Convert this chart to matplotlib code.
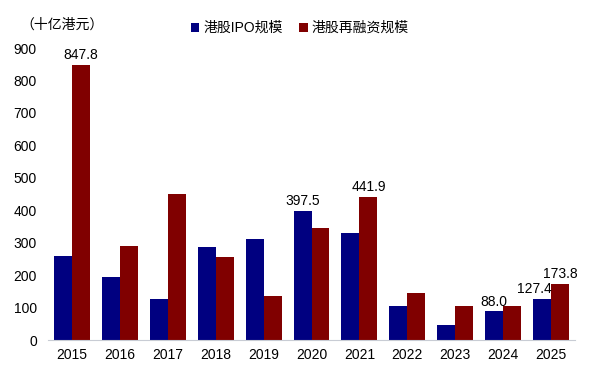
import matplotlib
matplotlib.use('agg')
import matplotlib.pyplot as plt  # noqa: E402
import numpy as np  # noqa: E402

plt.rcParams['font.family'] = ['Liberation Sans', 'Noto Sans CJK SC', 'DejaVu Sans']

years = ['2015', '2016', '2017', '2018', '2019', '2020', '2021', '2022', '2023', '2024', '2025']
ipo = [260, 194, 127, 286, 312, 397.5, 329, 104, 46, 88.0, 127.4]
refi = [847.8, 291, 450, 255, 137, 345, 441.9, 146, 104, 104, 173.8]
# which bars carry a value label
ipo_labels = {5: '397.5', 9: '88.0', 10: '127.4'}
refi_labels = {0: '847.8', 6: '441.9', 10: '173.8'}

fig = plt.figure(figsize=(5.91, 3.70), dpi=100)
ax = fig.add_axes([48/591, 1-340/370, 527/591, 292/370])

x = np.arange(len(years))
w = 0.375
b1 = ax.bar(x - w/2, ipo, w, color='#000080', label='港股IPO规模')
b2 = ax.bar(x + w/2, refi, w, color='#800000', label='港股再融资规模')

for i, t in ipo_labels.items():
    if i == len(years) - 1:
        # last one sits left of the taller red bar
        ax.text(x[i] + 0.02, ipo[i] + 8, t, ha='right', va='bottom', fontsize=10, zorder=5)
    else:
        ax.text(x[i] - w/2, ipo[i] + 8, t, ha='center', va='bottom', fontsize=10, zorder=5)
for i, t in refi_labels.items():
    ax.text(x[i] + w/2, refi[i] + 8, t, ha='center', va='bottom', fontsize=10, zorder=5)

ax.set_xlim(-0.5, len(years) - 0.5)
ax.set_ylim(0, 900)
ax.set_yticks(range(0, 901, 100))
ax.set_xticks(x)
ax.set_xticklabels(years)
ax.tick_params(axis='both', length=0, labelsize=10)
ax.tick_params(axis='y', pad=8)
ax.tick_params(axis='x', pad=6)
for s in ['top', 'right', 'left']:
    ax.spines[s].set_visible(False)
ax.spines['bottom'].set_color('#c8ccd4')

fig.text(20/591, 1-25/370, '（十亿港元）', fontsize=10, va='center',
         family=['Noto Sans CJK SC', 'DejaVu Sans'])
fig.legend(handles=[b1, b2], loc='center', bbox_to_anchor=(300/591, 1-28/370),
           ncol=2, frameon=False, fontsize=10, handlelength=0.6, handleheight=0.6,
           handletextpad=0.3, columnspacing=1.2)

plt.savefig('out.png', dpi=100)
